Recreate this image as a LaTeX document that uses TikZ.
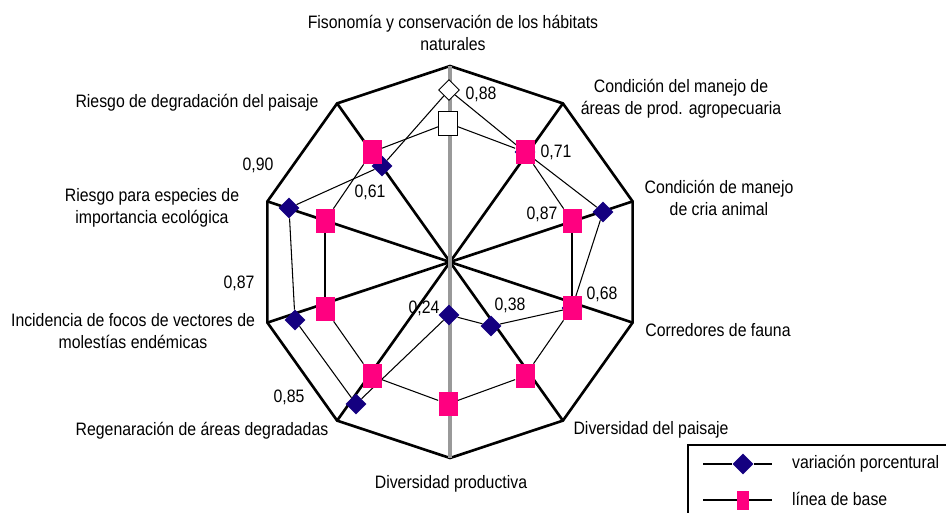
\documentclass[tikz,border=0pt]{standalone}
\usepackage{fontspec}
\setmainfont{Liberation Sans}[FakeStretch=0.88]
\usetikzlibrary{shapes.geometric}
\definecolor{navymark}{RGB}{20,0,128}
\definecolor{pinkmark}{RGB}{255,0,128}
\definecolor{axisgray}{RGB}{153,153,153}

\begin{document}
\begin{tikzpicture}[x=0.02cm,y=-0.02cm,font=\fontsize{10.24}{12.3}\selectfont,
    spoke/.style={line width=1.5pt},
    series/.style={line width=0.6pt},
    varmark/.style={diamond,fill=navymark,inner sep=0pt,minimum width=0.42cm,minimum height=0.42cm},
    basemark/.style={rectangle,fill=pinkmark,inner sep=0pt,minimum width=0.38cm,minimum height=0.48cm},
    catlabel/.style={align=center,anchor=base},
    vallabel/.style={anchor=base}]

    \useasboundingbox (0,0) rectangle (946,512);
    \clip (0,0) rectangle (946,512);

    % outer ring
    \coordinate (c) at (450,262);
    \coordinate (o1) at (450,66);
    \coordinate (o2) at (562.9,103.4);
    \coordinate (o3) at (632.6,201.4);
    \coordinate (o4) at (632.6,322.6);
    \coordinate (o5) at (562.9,420.6);
    \coordinate (o6) at (450,458);
    \coordinate (o7) at (337.1,420.6);
    \coordinate (o8) at (267.4,322.6);
    \coordinate (o9) at (267.4,201.4);
    \coordinate (o10) at (337.1,103.4);

    \draw[spoke] (c) -- (o2);
    \draw[spoke] (c) -- (o3);
    \draw[spoke] (c) -- (o4);
    \draw[spoke] (c) -- (o5);
    \draw[spoke] (c) -- (o7);
    \draw[spoke] (c) -- (o8);
    \draw[spoke] (c) -- (o9);
    \draw[spoke] (c) -- (o10);
    \draw[spoke] (o1) -- (o2) -- (o3) -- (o4) -- (o5) -- (o6) -- (o7) -- (o8) -- (o9) -- (o10) -- cycle;
    \draw[axisgray, line width=2.3pt] (o1) -- (o6);

    % variacion porcentual
    \node[varmark, fill=white, draw=black, line width=0.5pt] (d1) at (449,90) {};
    \node[varmark] (d2) at (525,152) {};
    \node[varmark] (d3) at (603,212) {};
    \node[varmark] (d4) at (572,308) {};
    \node[varmark] (d5) at (491,326) {};
    \node[varmark] (d6) at (449,315) {};
    \node[varmark] (d7) at (356,404) {};
    \node[varmark] (d8) at (295,320) {};
    \node[varmark] (d9) at (289,208) {};
    \node[varmark] (d10) at (382,166) {};

    \draw[series] (d1) -- (d2);
    \draw[series] (d2) -- (d3);
    \draw[series] (d3) -- (d4);
    \draw[series] (d4) -- (d5);
    \draw[series] (d5) -- (d6);
    \draw[series] (d6) -- (d7);
    \draw[series] (d7) -- (d8);
    \draw[series] (d8) -- (d9);
    \draw[series] (d9) -- (d10);
    \draw[series] (d10) -- (d1);

    % linea de base
    \node[basemark, fill=white, draw=black, line width=0.5pt] (s1) at (448,123) {};
    \node[basemark] (s2) at (525,152) {};
    \node[basemark] (s3) at (572,221) {};
    \node[basemark] (s4) at (572,308) {};
    \node[basemark] (s5) at (525,376) {};
    \node[basemark] (s6) at (448,404) {};
    \node[basemark] (s7) at (372,376) {};
    \node[basemark] (s8) at (325,309) {};
    \node[basemark] (s9) at (325,221) {};
    \node[basemark] (s10) at (372,152) {};

    \draw[series] (s1) -- (s2);
    \draw[series] (s2) -- (s3);
    \draw[series] (s3) -- (s4);
    \draw[series] (s4) -- (s5);
    \draw[series] (s5) -- (s6);
    \draw[series] (s6) -- (s7);
    \draw[series] (s7) -- (s8);
    \draw[series] (s8) -- (s9);
    \draw[series] (s9) -- (s10);
    \draw[series] (s10) -- (s1);

    % values
    \node[vallabel] (v1) at (481,99) {0,88};
    \node[vallabel] (v2) at (556,157) {0,71};
    \node[vallabel] (v3) at (542,219) {0,87};
    \node[vallabel] (v4) at (602,299) {0,68};
    \node[vallabel] (v5) at (510,310) {0,38};
    \node[vallabel] (v6) at (424,313) {0,24};
    \node[vallabel] (v7) at (289,402) {0,85};
    \node[vallabel] (v8) at (239,288) {0,87};
    \node[vallabel] (v9) at (258,170) {0,90};
    \node[vallabel] (v10) at (370,197) {0,61};

    % categories (base = last line)
    \node[catlabel] (lab1) at (453,50) {Fisonomía y conservación de los hábitats\\naturales};
    \node[catlabel] (lab2) at (681,114) {Condición del manejo de\\áreas de prod. agropecuaria};
    \node[catlabel] (lab3) at (719,215) {Condición de manejo\\de cria animal};
    \node[catlabel] (lab4) at (718,336) {Corredores de fauna};
    \node[catlabel] (lab5) at (651,434) {Diversidad del paisaje};
    \node[catlabel] (lab6) at (451,488) {Diversidad productiva};
    \node[catlabel] (lab7) at (202,435) {Regenaración de áreas degradadas};
    \node[catlabel] (lab8) at (133,348) {Incidencia de focos de vectores de\\molestías endémicas};
    \node[catlabel] (lab9) at (152,223) {Riesgo para especies de\\importancia ecológica};
    \node[catlabel] (lab10) at (197,107) {Riesgo de degradación del paisaje};

    % legend
    \draw[line width=1.2pt] (688,445) rectangle (960,530);
    \coordinate (k1a) at (703,464);
    \coordinate (k1b) at (772,464);
    \coordinate (k2a) at (703,500);
    \coordinate (k2b) at (772,500);
    \node[varmark] (kvar) at (743,464) {};
    \node[basemark, minimum width=0.24cm, minimum height=0.38cm] (kbase) at (743,500) {};
    \draw[series] (k1a) -- (kvar) -- (k1b);
    \draw[series] (k2a) -- (kbase) -- (k2b);
    \node[anchor=base west] (kvartext) at (786,468) {variación porcentural};
    \node[anchor=base west] (kbasetext) at (786,505) {línea de base};
\end{tikzpicture}
\end{document}
